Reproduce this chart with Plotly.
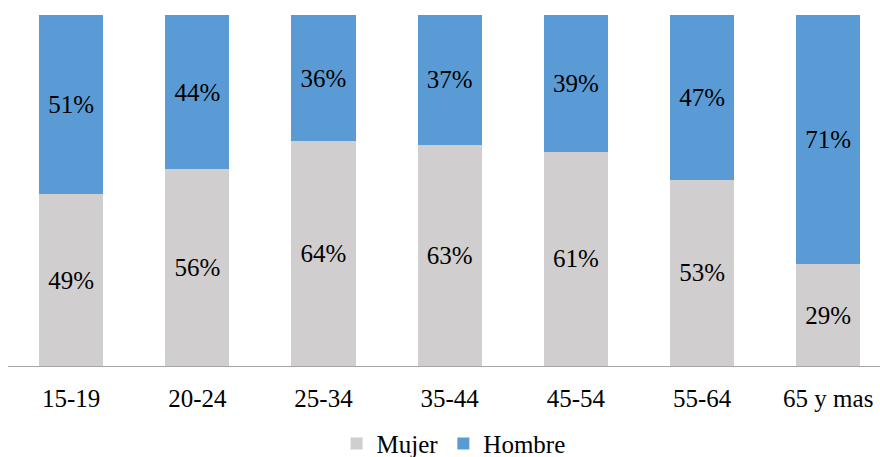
import plotly.graph_objects as go

# Age groups and share by sex (%)
categories = ["15-19", "20-24", "25-34", "35-44", "45-54", "55-64", "65 y mas"]
mujer = [49, 56, 64, 63, 61, 53, 29]
hombre = [51, 44, 36, 37, 39, 47, 71]

FONT = "Liberation Serif"
x_idx = list(range(len(categories)))

fig = go.Figure()
fig.add_trace(go.Bar(
    x=x_idx, y=mujer, name="Mujer",
    marker=dict(color="#D0CECE", line=dict(width=0)),
    text=[f"{v}%" for v in mujer], textposition="inside",
    insidetextanchor="middle", textangle=0,
    textfont=dict(family=FONT, size=25, color="black"),
))
fig.add_trace(go.Bar(
    x=x_idx, y=hombre, name="Hombre",
    marker=dict(color="#5B9BD5", line=dict(width=0)),
    text=[f"{v}%" for v in hombre], textposition="inside",
    insidetextanchor="middle", textangle=0,
    textfont=dict(family=FONT, size=25, color="black"),
))

fig.update_layout(
    barmode="stack",
    bargap=0.49,
    width=880, height=457,
    margin=dict(l=8, r=0, t=15, b=90.5, autoexpand=False),
    paper_bgcolor="white", plot_bgcolor="white",
    font=dict(family=FONT, size=25, color="black"),
    showlegend=True,
    legend=dict(
        orientation="h", x=0.511, xanchor="center", y=-0.156, yanchor="top",
        font=dict(family=FONT, size=25, color="black"),
        traceorder="normal", bgcolor="rgba(0,0,0,0)",
    ),
    xaxis=dict(
        tickmode="array", tickvals=x_idx, ticktext=categories,
        range=[-0.5, 6.41], showgrid=False, zeroline=False,
        showline=True, linecolor="#A6A6A6", linewidth=1.2,
        ticks="", ticklen=0, ticklabelstandoff=10,
        tickfont=dict(family=FONT, size=25, color="black"),
    ),
    yaxis=dict(range=[0, 100], visible=False, showgrid=False, zeroline=False),
)

fig.write_html("out.html")
